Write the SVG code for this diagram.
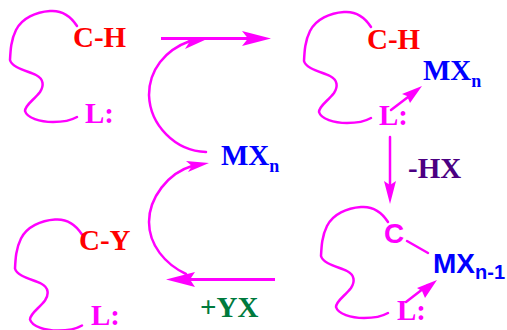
<svg xmlns="http://www.w3.org/2000/svg" width="507" height="330" viewBox="0 0 507 330">
<style>
.c{fill:none;stroke:#f0f;stroke-width:2.5;stroke-linecap:round;stroke-linejoin:round}
.t{stroke-width:3;stroke-linecap:butt}
.a{fill:#f0f;stroke:none}
text{font-family:"Liberation Serif",serif;font-weight:bold;font-size:29px}
.r{fill:#f00}.m{fill:#f0f}.b{fill:#00f}
.s{font-family:"Liberation Sans",sans-serif;font-size:28px}
.sub{font-size:18px}
.sub2{font-family:"Liberation Sans",sans-serif;font-size:20px}
</style>
<defs>
<path id="chain" d="M77 26C70 15 62 10 50 11C36 12 22 18 16 30C11 40 10.500 50 10 60C12 68 28 71 36 75C44 79 44 86 40 92C34 100 25 105 25 111C27 118 40 122 53 122C62 122 70 121 77 117"/>
</defs>
<rect width="507" height="330" fill="#fff"/>
<g id="connectors">
<path class="c t" d="M161 38.500H250"/>
<path class="a" d="M271 38.500L242 31L248 38.500L242 46Z"/>
<path class="c" d="M206 152C175 151 150 125 149 95C149 70 165 50 190 41"/>
<path class="a" d="M207 39L185 39L190 41L185 49Z"/>
<path class="c" d="M192 166C168 173 149 198 149 222C149 245 165 264 186 274"/>
<path class="c t" d="M275 279.500H190"/>
<path class="a" d="M166 279.500L195 272L190 279.500L195 287Z"/>
<path class="a" d="M209 163L186 161L192 166L188 172Z"/>
<path class="c" d="M390 137V190"/>
<path class="a" d="M390 204L384 181L390 185L396 181Z"/>
<path class="c" d="M391 110L412 94"/>
<path class="a" d="M422 86L402 94L407 96L410 103Z"/>
<path class="c" d="M407 241L428 253"/>
<path class="c" d="M406 302L428 285"/>
<path class="a" d="M437 280L417 288L422 291L425 298Z"/>
</g>
<g id="node-ch-l">
<use href="#chain" class="c"/>
<text x="73" y="47" class="r">C-H</text>
<text x="85" y="123" class="m">L:</text>
</g>
<g id="node-ch-l-mx">
<use href="#chain" class="c" transform="translate(294 1)"/>
<text x="367" y="49" class="r">C-H</text>
<text x="379" y="125" class="m">L:</text>
<text x="423" y="80" class="b">MX<tspan class="sub" dy="7">n</tspan></text>
</g>
<g id="node-mx"><text x="221" y="165" class="b">MX<tspan class="sub" dy="7">n</tspan></text></g>
<g id="node-hx"><text x="408" y="178" fill="#4b0082">-HX</text></g>
<g id="node-cy-l">
<use href="#chain" class="c" transform="translate(5 208.500)"/>
<text x="79" y="250" class="r">C-Y</text>
<text x="91" y="325" class="m">L:</text>
</g>
<g id="node-yx"><text x="200" y="317" fill="#007a3d">+YX</text></g>
<g id="node-c-mx">
<use href="#chain" class="c" transform="translate(311 196)"/>
<text x="384" y="243" class="m s">C</text>
<text x="433" y="273" class="b s">MX<tspan class="sub2" dy="6">n-1</tspan></text>
<text x="397" y="320" class="m">L:</text>
</g>
</svg>
